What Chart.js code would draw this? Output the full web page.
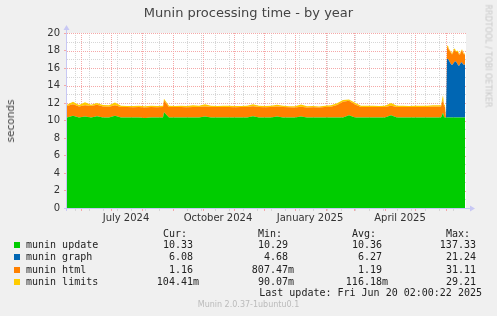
<!DOCTYPE html>
<html>
<head>
<meta charset="utf-8">
<script src="https://cdn.jsdelivr.net/npm/chart.js@4.4.1/dist/chart.umd.min.js"></script>
<style>
body{margin:0;background:#f0f0f0;}
#wrap{position:relative;width:497px;height:316px;overflow:hidden;font-family:"DejaVu Sans",sans-serif;}
#c{position:absolute;left:0;top:0;}
.t{position:absolute;white-space:pre;}
.mono{font-family:"DejaVu Sans Mono",monospace;font-size:10px;line-height:12px;color:#222;}
.sq{position:absolute;width:6px;height:6px;}
</style>
</head>
<body>
<div id="wrap">
<canvas id="c" width="497" height="316"></canvas>
<div class="t" style="left:0;width:497px;top:5px;text-align:center;font-size:13px;color:#444;">Munin processing time - by year</div>
<div class="t" style="left:10px;top:121px;font-size:10.5px;color:#444;transform:translate(-50%,-50%) rotate(-90deg);">seconds</div>
<div class="t" style="left:488px;top:56px;font-size:8px;color:#c8c8c8;transform:translate(-50%,-50%) rotate(90deg);">RRDTOOL / TOBI OETIKER</div>
<div id="legend"></div>
<div class="t mono" style="right:15px;top:287px;">Last update: Fri Jun 20 02:00:22 2025</div>
<div class="t" style="left:0;width:497px;top:300px;text-align:center;font-size:8px;color:#bbb;">Munin 2.0.37-1ubuntu0.1</div>
</div>
<script>
// days since 2024-05-18
const days = [0,6,12,18,24,30,36,42,48,54,60,66,72,78,84,90,96,97,
 102,108,114,120,126,132,138,144,150,156,162,168,174,180,186,192,198,204,210,216,222,228,234,240,246,252,258,264,270,276,282,288,294,300,306,312,318,324,330,336,342,348,354,360,366,372,
 374,375,376,377,378,379,380,381,382,383,384,385,386,387,388,389,390,391,392,393,394,395,396,397,398];

const updateVals = [10.33,10.55,10.33,10.45,10.33,10.5,10.33,10.33,10.55,10.33,10.33,10.33,10.33,10.28,10.33,10.33,10.33,10.95,
 10.33,10.33,10.33,10.33,10.33,10.33,10.45,10.33,10.33,10.33,10.33,10.33,10.33,10.33,10.5,10.33,10.33,10.33,10.45,10.33,10.33,10.33,10.45,10.33,10.33,10.33,10.33,10.33,10.33,10.33,10.6,10.33,10.33,10.33,10.33,10.33,10.33,10.6,10.33,10.33,10.33,10.33,10.33,10.33,10.33,10.33,
 10.33,10.6,10.9,10.4,10.33,10.33,10.33,10.33,10.33,10.33,10.33,10.33,10.33,10.33,10.33,10.33,10.33,10.33,10.33,10.33,10.33,10.33,10.33,10.33,10.33];

const graphVals = [0,0,0,0,0,0,0,0,0,0,0,0,0,0,0,0,0,0,
 0,0,0,0,0,0,0,0,0,0,0,0,0,0,0,0,0,0,0,0,0,0,0,0,0,0,0,0,0,0,0,0,0,0,0,0,0,0,0,0,0,0,0,0,0,0,
 0,0,0,0,0,0,6.7,6.7,6.5,6.3,6.1,6.0,6.1,6.3,6.4,6.4,6.2,6.0,5.9,6.1,6.3,6.3,6.1,6.0,6.08];

const htmlVals = [1.32,1.3,1.28,1.3,1.33,1.3,1.28,1.25,1.2,1.22,1.2,1.18,1.2,1.22,1.2,1.18,1.2,1.35,
 1.22,1.2,1.22,1.18,1.2,1.22,1.15,1.2,1.22,1.2,1.2,1.18,1.2,1.22,1.12,1.2,1.18,1.2,1.15,1.2,1.18,1.15,1.12,1.15,1.18,1.15,1.2,1.25,1.45,1.8,1.65,1.5,1.22,1.2,1.2,1.22,1.2,1.1,1.22,1.2,1.22,1.2,1.22,1.2,1.25,1.25,
 1.25,1.45,1.4,1.25,1.25,0,1.35,1.3,1.2,1.25,1.3,1.2,1.3,1.4,1.3,1.1,1.3,1.5,1.3,1.1,1.2,1.4,1.3,1.2,1.16];

const limitsVals = [0.15,0.3,0.15,0.35,0.15,0.2,0.15,0.15,0.3,0.15,0.12,0.15,0.15,0.12,0.15,0.15,0.15,0.2,
 0.15,0.12,0.15,0.15,0.2,0.15,0.25,0.15,0.12,0.15,0.15,0.15,0.12,0.15,0.25,0.15,0.15,0.15,0.2,0.15,0.12,0.15,0.25,0.15,0.15,0.12,0.15,0.15,0.2,0.2,0.15,0.2,0.15,0.15,0.15,0.12,0.15,0.3,0.15,0.15,0.12,0.15,0.15,0.15,0.15,0.15,
 0.15,0.3,0.6,0.2,0.15,0,0.15,0.2,0.15,0.15,0.12,0.15,0.15,0.2,0.15,0.12,0.15,0.15,0.12,0.15,0.15,0.12,0.15,0.12,0.1];

// x axis: month starts (major grid), minor grid, quarter labels
const monthStartDays = [14,44,75,106,136,167,197,228,259,287,318,348,379];
const minorDays = [8,22,36,50,64,78,92,120,134,148,162,176,190,204,218,232,246,260,274,288,302,316,330,344,358,372,386];
const labelDays = [59,151,243,333];
const labelTexts = ['July 2024','October 2024','January 2025','April 2025'];

// legend table
const seriesNames = ['munin update','munin graph','munin html','munin limits'];
const seriesColors = ['#00cc00','#0066b3','#ff8000','#ffcc00'];
const curVals = ['10.33 ','6.08 ','1.16 ','104.41m'];
const minVals = ['10.29 ','4.68 ','807.47m','90.07m'];
const avgVals = ['10.36 ','6.27 ','1.19 ','116.18m'];
const maxVals = ['137.33 ','21.24 ','31.11 ','29.21 '];

const red = '#f5a8a8';
const grey = '#d6d6d6';

function pts(vals){ return vals.map((v,i)=>({x:days[i], y:v})); }

// legend html
let lg = '';
const colRight = [298, 203, 109, 15]; // cur, min, avg, max (css right)
['Cur:','Min:','Avg:','Max:'].forEach((h,i)=>{
  lg += '<div class="t mono" style="right:'+(colRight[i]+12)+'px;top:228px;">'+h+'</div>';
});
seriesNames.forEach((n,r)=>{
  const top = 239 + r*12.3;
  lg += '<div class="sq" style="left:14px;top:'+(top+3)+'px;background:'+seriesColors[r]+'"></div>';
  lg += '<div class="t mono" style="left:26px;top:'+top+'px;">'+n+'</div>';
  [curVals,minVals,avgVals,maxVals].forEach((arr,i)=>{
    lg += '<div class="t mono" style="right:'+colRight[i]+'px;top:'+top+'px;">'+arr[r]+'</div>';
  });
});
document.getElementById('legend').innerHTML = lg;

// white plot area + dotted rrdtool-style grid, under the areas
const plotGrid = {
  id:'plotGrid',
  beforeDatasetsDraw(chart){
    const {ctx, chartArea:a, scales} = chart;
    ctx.save();
    ctx.fillStyle = '#ffffff';
    ctx.fillRect(a.left, a.top, a.right - a.left, a.bottom - a.top);
    const L = Math.round(a.left), R = Math.round(a.right), T = Math.round(a.top), B = Math.round(a.bottom);
    const vline = (v, col) => {
      const x = Math.round(scales.x.getPixelForValue(v));
      ctx.fillStyle = col;
      for (let y = T; y < B; y += 2) ctx.fillRect(x, y, 1, 1);
    };
    const hline = (v, col) => {
      const y = Math.round(scales.y.getPixelForValue(v));
      ctx.fillStyle = col;
      for (let x = L; x < R; x += 2) ctx.fillRect(x, y, 1, 1);
    };
    for (let v = 1; v < 20; v += 2) hline(v, grey);
    minorDays.forEach(d => vline(d, grey));
    for (let v = 0; v <= 20; v += 2) hline(v, red);
    monthStartDays.forEach(d => vline(d, red));
    ctx.restore();
  }
};

const axisDeco = {
  id:'axisDeco',
  afterDatasetsDraw(chart){
    const {ctx, chartArea:a} = chart;
    ctx.save();
    ctx.strokeStyle = '#c8c8f4';
    ctx.fillStyle = '#c8c8f4';
    ctx.lineWidth = 1;
    ctx.beginPath();
    ctx.moveTo(a.left - 0.5, a.bottom + 3);
    ctx.lineTo(a.left - 0.5, a.top - 4);
    ctx.moveTo(a.left - 3, a.bottom + 0.5);
    ctx.lineTo(a.right + 5, a.bottom + 0.5);
    ctx.stroke();
    ctx.beginPath();
    ctx.moveTo(a.left - 3.5, a.top - 3);
    ctx.lineTo(a.left + 2.5, a.top - 3);
    ctx.lineTo(a.left - 0.5, a.top - 8);
    ctx.closePath();
    ctx.fill();
    ctx.beginPath();
    ctx.moveTo(a.right + 4, a.bottom - 2.5);
    ctx.lineTo(a.right + 4, a.bottom + 3.5);
    ctx.lineTo(a.right + 9, a.bottom + 0.5);
    ctx.closePath();
    ctx.fill();
    ctx.restore();
  }
};

Chart.defaults.font.family = 'DejaVu Sans';
Chart.defaults.font.size = 10;
Chart.defaults.color = '#333';

function xTickColor(c){
  const v = c.tick ? c.tick.value : null;
  if (monthStartDays.includes(v)) return red;
  if (labelDays.includes(v)) return 'rgba(0,0,0,0)';
  return grey;
}
function yTickColor(c){
  return (c.tick && c.tick.value % 2 === 0) ? red : grey;
}

const ctx = document.getElementById('c');
new Chart(ctx, {
  type: 'line',
  data: {
    datasets: [
      {label:'munin update', data:pts(updateVals), backgroundColor:'#00cc00', fill:'origin'},
      {label:'munin graph', data:pts(graphVals), backgroundColor:'#0066b3', fill:'-1'},
      {label:'munin html', data:pts(htmlVals), backgroundColor:'#ff8000', fill:'-1'},
      {label:'munin limits', data:pts(limitsVals), backgroundColor:'#ffcc00', fill:'-1'}
    ]
  },
  options: {
    responsive:false,
    animation:false,
    elements:{point:{radius:0}, line:{borderWidth:0, borderColor:'rgba(0,0,0,0)', tension:0}},
    plugins:{legend:{display:false}, tooltip:{enabled:false}},
    layout:{padding:{top:33, right:31, left:0, bottom:0}},
    scales:{
      x:{
        type:'linear', min:0, max:399,
        afterFit(s){ s.height = 108; },
        afterBuildTicks(s){
          const all = monthStartDays.concat(minorDays, labelDays).sort((a,b)=>a-b);
          s.ticks = all.map(v=>({value:v}));
        },
        ticks:{
          autoSkip:false, maxRotation:0, minRotation:0, padding:1,
          callback(v){ const i = labelDays.indexOf(v); return i >= 0 ? labelTexts[i] : ''; }
        },
        grid:{drawOnChartArea:false, tickLength:3, tickColor:xTickColor},
        border:{display:false}
      },
      y:{
        stacked:true, min:0, max:20,
        afterFit(s){ s.width = 67; },
        ticks:{stepSize:1, padding:4, callback(v){ return v % 2 === 0 ? String(v) : ''; }},
        grid:{drawOnChartArea:false, tickLength:3, tickColor:yTickColor},
        border:{display:false}
      }
    }
  },
  plugins:[plotGrid, axisDeco]
});
</script>
</body>
</html>
